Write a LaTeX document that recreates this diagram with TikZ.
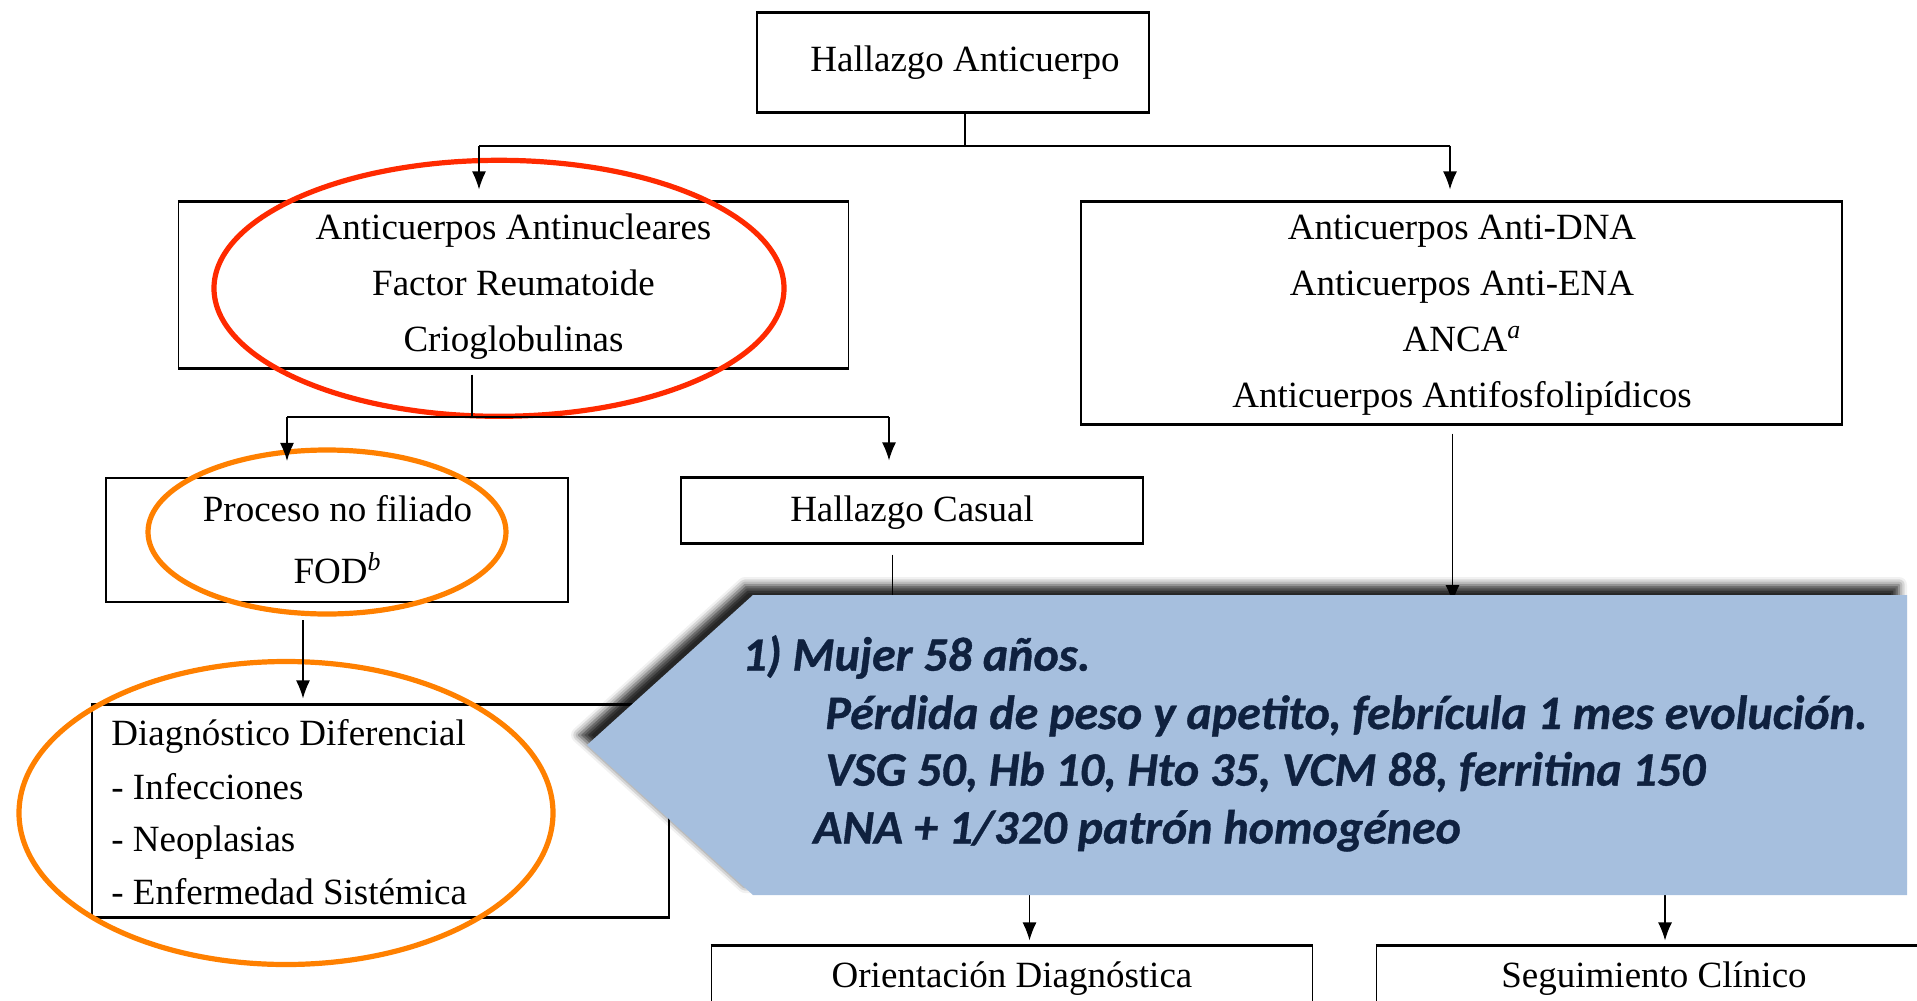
\documentclass[tikz,border=0pt]{standalone}
\usepackage{fontspec}
\setmainfont{Liberation Serif}
\newfontfamily\calfont{Carlito}
\usetikzlibrary{arrows.meta,shadows.blur}
\definecolor{calloutblue}{HTML}{A6BFDE}
\definecolor{navy}{HTML}{0F213F}
\definecolor{redmark}{HTML}{FF2A00}
\definecolor{orangemark}{HTML}{FF8000}
\begin{document}
\begin{tikzpicture}[x=0.5pt,y=-0.5pt,
  box/.style={draw=black, line width=0.6pt, inner sep=0pt,
    append after command={(\tikzlastnode.north west) edge[line width=1.2pt] (\tikzlastnode.north east)
                          (\tikzlastnode.south west) edge[line width=1.2pt] (\tikzlastnode.south east)}},
  lbl/.style={font=\fontsize{18.5}{22}\selectfont, anchor=base, inner sep=0pt},
  lbll/.style={lbl, anchor=base west},
  link/.style={line width=0.6pt},
  arr/.style={link, -{Latex[length=9pt,width=7pt]}},
  barline/.style={line width=1pt},
  ringmark/.style={line width=2.6pt},
  calltxt/.style={font=\calfont\bfseries\itshape\fontsize{24}{28}\selectfont\addfontfeature{FakeBold=0.8}, text=navy, anchor=base west, inner sep=0pt}
]
\useasboundingbox (0,0) rectangle (1917,1001);
\clip (0,0) rectangle (1917,1001);

% boxes
\node[box, minimum width=196pt, minimum height=49.5pt] (top) at (953,62.5) {};
\node[box, minimum width=335pt, minimum height=83pt] (ana) at (513.5,285) {};
\node[box, minimum width=380.5pt, minimum height=111pt] (dna) at (1461.5,313) {};
\node[box, minimum width=231pt, minimum height=61.5pt] (proc) at (337,540) {};
\node[box, minimum width=231pt, minimum height=32.5pt] (casual) at (912,510.5) {};
\node[box, minimum width=288.5pt, minimum height=106pt] (diag) at (380.5,811) {};
\node[box, minimum width=300.75pt, minimum height=40pt] (orient) at (1012,986) {};
\node[box, minimum width=277.5pt, minimum height=40pt] (seg) at (1654,986) {};

% texts
\node[lbl] (topT) at (965,71) {Hallazgo Anticuerpo};
\node[lbl] (anaT1) at (513.5,239) {Anticuerpos Antinucleares};
\node[lbl] (anaT2) at (513.5,295.5) {Factor Reumatoide};
\node[lbl] (anaT3) at (513.5,351.5) {Crioglobulinas};
\node[lbl] (dnaT1) at (1462,239) {Anticuerpos Anti-DNA};
\node[lbl] (dnaT2) at (1462,295.5) {Anticuerpos Anti-ENA};
\node[lbl] (dnaT3) at (1462,351.5) {ANCA\textsuperscript{\textit{a}}};
\node[lbl] (dnaT4) at (1462,407.2) {Anticuerpos Antifosfolipídicos};
\node[lbl] (procT1) at (337.5,521) {Proceso no filiado};
\node[lbl] (procT2) at (337.5,583.5) {FOD\textsuperscript{\textit{b}}};
\node[lbl] (casualT) at (912,521) {Hallazgo Casual};
\node[lbll] (diagT1) at (111,745.5) {Diagnóstico Diferencial};
\node[lbll] (diagT2) at (111,799) {- Infecciones};
\node[lbll] (diagT3) at (111,851.5) {- Neoplasias};
\node[lbll] (diagT4) at (111,904) {- Enfermedad Sistémica};
\node[lbl] (orientT) at (1012,987) {Orientación Diagnóstica};
\node[lbl] (segT) at (1654,987) {Seguimiento Clínico};

% highlight rings
\draw[ringmark, draw=redmark] (499,288.3) ellipse [x radius=285, y radius=128];
\draw[ringmark, draw=orangemark] (327,532) ellipse [x radius=179, y radius=82];
\draw[ringmark, draw=orangemark] (286,813) ellipse [x radius=267, y radius=151.5];

% connectors
\coordinate (j1) at (965,145.5);
\coordinate (b1l) at (479,145.5);
\coordinate (b1r) at (1450,145.5);
\draw[link] (j1 |- top.south) -- (j1);
\draw[barline] (b1l) -- (b1r);
\draw[arr, shorten >=6pt] (b1l) -- (b1l |- ana.north);
\draw[arr, shorten >=6pt] (b1r) -- (b1r |- dna.north);

\coordinate (j2) at (472,417);
\coordinate (b2l) at (287,417);
\coordinate (b2r) at (889,417);
\draw[link, shorten <=3pt] (j2 |- ana.south) -- (j2);
\draw[barline] (b2l) -- (b2r);
\draw[arr, shorten >=8.5pt] (b2l) -- (b2l |- proc.north);
\draw[arr, shorten >=8.5pt] (b2r) -- (b2r |- casual.north);

\coordinate (j3) at (303,601.5);
\draw[arr, shorten <=9pt, shorten >=3pt] (j3 |- proc.south) -- (j3 |- diag.north);

\coordinate (h1) at (892.5,800);
\draw[link, shorten <=5.5pt] (h1 |- casual.south) -- (h1);
\coordinate (h2) at (1452.5,603);
\draw[arr, shorten <=4.5pt] (h2 |- dna.south) -- (h2);
\coordinate (h3) at (1029.5,820);
\draw[arr, shorten >=2.5pt] (h3) -- (h3 |- orient.north);
\coordinate (h4) at (1665,820);
\draw[arr, shorten >=2.5pt] (h4) -- (h4 |- seg.north);

% callout
\fill[calloutblue, blur shadow={shadow xshift=-4pt, shadow yshift=5pt, shadow blur radius=4pt, shadow opacity=85}]
  (587,745) -- (753,595) -- (1907,595) -- (1907,895) -- (753,895) -- cycle;
\node[calltxt] (c1) at (742,670.7) {1) Mujer 58 años.};
\node[calltxt] (c2) at (825,729) {Pérdida de peso y apetito, febrícula 1 mes evolución.};
\node[calltxt] (c3) at (825,785.6) {VSG 50, Hb 10, Hto 35, VCM 88, ferritina 150};
\node[calltxt] (c4) at (813,843.5) {ANA + 1/320 patrón homogéneo};
\end{tikzpicture}
\end{document}
